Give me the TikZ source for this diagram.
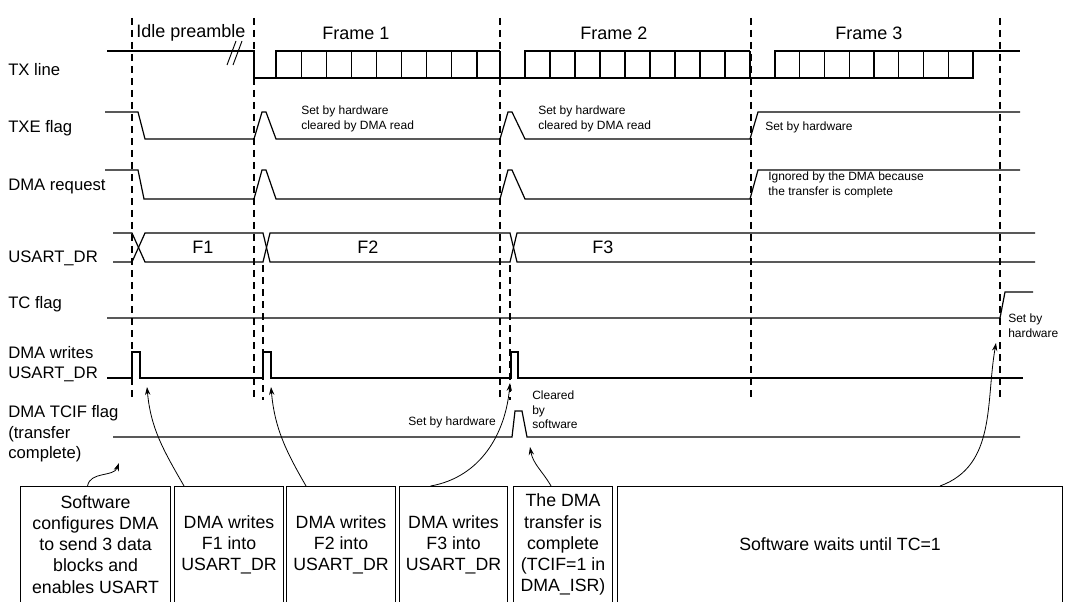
\documentclass[tikz,border=0pt]{standalone}
\usepackage{fontspec}
\setmainfont{Liberation Sans}
\usetikzlibrary{arrows.meta,positioning}

\begin{document}
\begin{tikzpicture}[x=0.75pt,y=-0.75pt,
    wave/.style={line width=0.9pt},
    grid/.style={dashed, line width=0.8pt, dash pattern=on 5pt off 4pt},
    sig/.style={anchor=west, font=\fontsize{12.5}{14}\selectfont, align=left, inner sep=0pt},
    head/.style={anchor=west, font=\fontsize{13.5}{15}\selectfont, inner sep=0pt},
    note/.style={anchor=west, font=\fontsize{9}{11}\selectfont, align=left, inner sep=0pt},
    box/.style={draw, line width=0.8pt, anchor=north west, font=\fontsize{13.3}{15.8}\selectfont, align=center, inner sep=0pt},
    ptr/.style={-{Stealth[length=6pt,width=4pt]}, line width=0.6pt}]

\useasboundingbox (0,0) rectangle (1066,602);

% Time markers
\foreach \x in {132,254,500,751,1000} {
    \draw[grid] (\x,18) -- (\x,400);
}
\foreach \x in {263,510} {
    \draw[grid] (\x,265) -- (\x,400);
}

% Headings
\node[head] (idle) at (136,33) {Idle preamble};
\node[head] (fr1) at (322,33) {Frame 1};
\node[head] (fr2) at (580,33) {Frame 2};
\node[head] (fr3) at (835,33) {Frame 3};

% Signal names
\node[sig] (ltx) at (8,70) {TX line};
\node[sig] (ltxe) at (8,128) {TXE flag};
\node[sig] (ldma) at (8,186) {DMA request};
\node[sig] (ldr) at (8,258) {USART\_DR};
\node[sig] (ltc) at (8,304) {TC flag};
\node[sig, font=\fontsize{12.5}{15.5}\selectfont] (lwr) at (8,364) {DMA writes\\USART\_DR};
\node[sig, font=\fontsize{12.5}{15.5}\selectfont] (ltcif) at (8,434) {DMA TCIF flag\\(transfer\\complete)};

% TX line
\draw[wave] (107,51) -- (254,51) -- (254,78) -- (500,78);
\draw[wave] (500,51) -- (500,78) -- (750,78);
\draw[wave] (750,51) -- (750,78) -- (973,78);
\foreach \s/\e in {276/477,525/725,775/973} {
    \draw[wave] (\s,51) rectangle (\e,78);
    \pgfmathsetmacro{\bw}{(\e-\s)/8}
    \foreach \k in {1,...,7} {
        \draw[wave] (\s+\k*\bw,51) -- (\s+\k*\bw,78);
    }
}
\draw[wave] (477,51) -- (500,51);
\draw[wave] (725,51) -- (750,51);
\draw[wave] (973,51) -- (1020,51);
\draw[line width=0.7pt] (227,65) -- (236,41) (233,65) -- (242,41);

% TXE flag
\draw[wave] (105,112) -- (138,112) -- (145,139) -- (254,139) -- (262,112) -- (266,112)
    -- (276,139) -- (500,139) -- (508,112) -- (512,112) -- (525,139) -- (750,139)
    -- (758,112) -- (1020,112);
\node[note] (txe1) at (301,119) {Set by hardware\\cleared by DMA read};
\node[note] (txe2) at (538,119) {Set by hardware\\cleared by DMA read};
\node[note] (txe3) at (765,127) {Set by hardware};

% DMA request
\draw[wave] (105,170) -- (138,170) -- (144,199) -- (254,199) -- (262,170) -- (266,170)
    -- (276,199) -- (500,199) -- (508,170) -- (512,170) -- (525,199) -- (750,199)
    -- (758,170) -- (1020,170);
\node[note] (ign) at (768,185) {Ignored by the DMA because\\ the transfer is complete};

% USART_DR bus
\draw[wave] (113,233) -- (132,233) -- (145,262) -- (263,262) -- (270,233) -- (510,233)
    -- (517,262) -- (1035,262);
\draw[wave] (113,262) -- (132,262) -- (145,233) -- (263,233) -- (270,262) -- (510,262)
    -- (517,233) -- (1035,233);
\node[head] (f1) at (192,247) {F1};
\node[head] (f2) at (357,247) {F2};
\node[head] (f3) at (592,247) {F3};

% TC flag
\draw[wave] (107,318) -- (1000,318) -- (1005,292) -- (1033,292);
\node[note] (tcset) at (1008,326) {Set by\\hardware};

% DMA writes USART_DR
\draw[wave] (107,378) -- (132,378) -- (132,352) -- (140,352) -- (140,378) -- (263,378)
    -- (263,352) -- (271,352) -- (271,378) -- (511,378) -- (511,352) -- (518,352)
    -- (518,378) -- (1023,378);

% DMA TCIF flag
\draw[wave] (113,437) -- (512,437) -- (515,411) -- (522,411) -- (527,437) -- (1020,437);
\node[note, anchor=east] (tcifset) at (496,422) {Set by hardware};
\node[note] (clr) at (532,410) {Cleared\\by\\software};

% Event boxes
\node[box, minimum width=150pt*0.75, minimum height=116pt*0.75] (b1) at (20,486) {Software\\configures DMA\\to send 3 data\\blocks and\\enables USART};
\node[box, minimum width=109pt*0.75, minimum height=116pt*0.75] (b2) at (174,486) {DMA writes\\F1 into\\USART\_DR};
\node[box, minimum width=109pt*0.75, minimum height=116pt*0.75] (b3) at (286,486) {DMA writes\\F2 into\\USART\_DR};
\node[box, minimum width=108pt*0.75, minimum height=116pt*0.75] (b4) at (399,486) {DMA writes\\F3 into\\USART\_DR};
\node[box, minimum width=99pt*0.75, minimum height=116pt*0.75] (b5) at (513,486) {The DMA\\transfer is\\complete\\(TCIF=1 in\\DMA\_ISR)};
\node[box, minimum width=445pt*0.75, minimum height=116pt*0.75] (b6) at (617,486) {Software waits until TC=1};

% Pointers
\coordinate (p1) at (119,463);
\coordinate (p2) at (147,387);
\coordinate (p3) at (271,387);
\coordinate (p4) at (510,383);
\coordinate (p5) at (530,447);
\coordinate (p6) at (996,343);
\draw[ptr] (b1.north) ++(-8,0) to[out=80,in=-110] (p1);
\draw[ptr] (b2.north) ++(-45,0) to[out=120,in=-85] (p2);
\draw[ptr] (b3.north) ++(-35,0) to[out=120,in=-85] (p3);
\draw[ptr] (b4.north) ++(-23,0) to[out=10,in=-95] (p4);
\draw[ptr] (b5.north) ++(-12,0) to[out=120,in=-80] (p5);
\draw[ptr] (b6.north) ++(100,0) to[out=20,in=-100] (p6);

\end{tikzpicture}
\end{document}
